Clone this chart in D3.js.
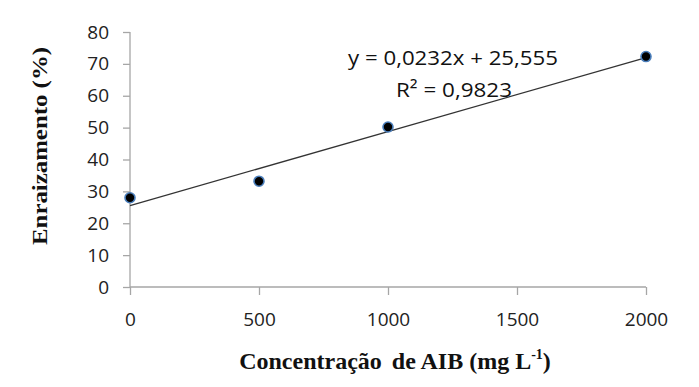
<!DOCTYPE html>
<html lang="pt">
<head>
    <meta charset="UTF-8">
    <title>Enraizamento x AIB</title>
    <script src="https://d3js.org/d3.v7.min.js"></script>
    <style>
        body { margin: 0; background: #fff; }
        .tick text { font-family: "Open Sans", "Noto Sans", sans-serif; font-size: 19px; fill: #222; }
        .axis-title { font-family: "Liberation Serif", "DejaVu Serif", serif; font-weight: bold; font-size: 22px; fill: #111; }
        .eq { font-family: "Open Sans", "Noto Sans", sans-serif; font-size: 20px; fill: #111; }
    </style>
</head>
<body>
<div id="chart"></div>
<script>
    // data
    const doses = [0, 500, 1000, 2000];
    const rooting = [28, 33.2, 50.2, 72.3];
    const xTicks = [0, 500, 1000, 1500, 2000];
    const yTicks = [0, 10, 20, 30, 40, 50, 60, 70, 80];
    const slope = 0.0232, intercept = 25.555;

    const width = 699, height = 387;
    const svg = d3.select('#chart').append('svg')
        .attr('width', width).attr('height', height);

    const x = d3.scaleLinear().domain([0, 2000]).range([130, 646]);
    const y = d3.scaleLinear().domain([0, 80]).range([287, 32]);

    const axisColor = '#a6a6a6';

    // y axis
    const yAxis = svg.append('g')
        .attr('transform', `translate(${x(0)},0)`)
        .call(d3.axisLeft(y).tickValues(yTicks).tickSize(7).tickPadding(14).tickFormat(d3.format('d')));
    yAxis.selectAll('line, path').attr('stroke', axisColor).attr('stroke-width', 1.3);
    yAxis.select('.domain').attr('d', `M0,${y(80)}V${y(0)}`);

    // x axis
    const xAxis = svg.append('g')
        .attr('transform', `translate(0,${y(0)})`)
        .call(d3.axisBottom(x).tickValues(xTicks).tickSize(8).tickPadding(18).tickFormat(d3.format('d')));
    xAxis.selectAll('line, path').attr('stroke', axisColor).attr('stroke-width', 1.3);
    xAxis.select('.domain').attr('d', `M${x(0)},0H${x(2000)}`);

    // trend line
    svg.append('line')
        .attr('x1', x(0)).attr('y1', y(intercept))
        .attr('x2', x(2000)).attr('y2', y(intercept + slope * 2000))
        .attr('stroke', '#333').attr('stroke-width', 1.3);

    // points
    svg.append('g').selectAll('circle')
        .data(doses)
        .enter().append('circle')
        .attr('cx', d => x(d))
        .attr('cy', (d, i) => y(rooting[i]))
        .attr('r', 5)
        .attr('fill', '#000')
        .attr('stroke', '#4a7ebb')
        .attr('stroke-width', 1.6);

    // equation
    svg.append('text').attr('class', 'eq')
        .attr('x', 453).attr('y', 65).attr('text-anchor', 'middle')
        .attr('textLength', 210).attr('lengthAdjust', 'spacingAndGlyphs')
        .text('y = 0,0232x + 25,555');
    svg.append('text').attr('class', 'eq')
        .attr('x', 454).attr('y', 97).attr('text-anchor', 'middle')
        .attr('textLength', 116).attr('lengthAdjust', 'spacingAndGlyphs')
        .text('R² = 0,9823');

    // axis titles
    svg.append('text').attr('class', 'axis-title')
        .attr('transform', 'translate(47,146) rotate(-90)')
        .attr('text-anchor', 'middle')
        .attr('textLength', 198).attr('lengthAdjust', 'spacingAndGlyphs')
        .text('Enraizamento (%)');

    const xt = svg.append('text').attr('class', 'axis-title')
        .attr('x', 395).attr('y', 369).attr('text-anchor', 'middle')
        .style('font-size', '24px');
    xt.append('tspan').text('Concentração ');
    xt.append('tspan').attr('dx', 4).text('de AIB (mg L');
    xt.append('tspan').attr('dy', -10).style('font-size', '14px').text('-1');
    xt.append('tspan').attr('dy', 10).text(')');
</script>
</body>
</html>
